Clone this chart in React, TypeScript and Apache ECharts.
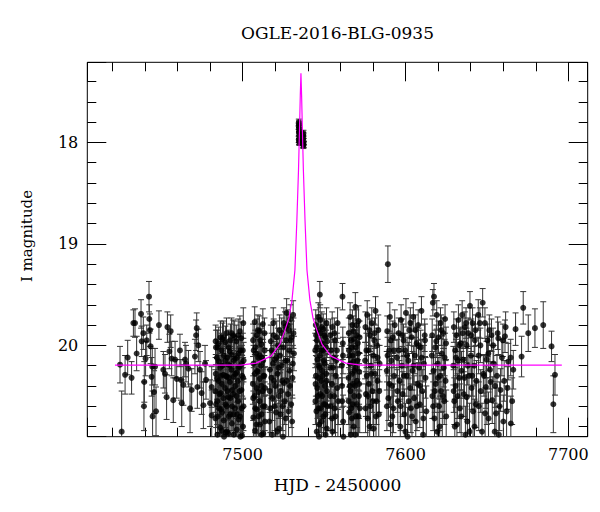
import React, { useEffect, useRef } from 'react';
import * as echarts from 'echarts';

const TITLE = 'OGLE-2016-BLG-0935';
const X_NAME = 'HJD - 2450000';
const Y_NAME = 'I magnitude';
const X_RANGE = [7404.6, 7711.9];
const Y_RANGE = [17.21, 20.9];

// [HJD-2450000, I mag, error]
const SEG_EARLY: number[][] = [
  [7424.7,20.19,.18],[7425.7,20.85,.4],[7427.8,20.29,.19],[7429.4,20.12,.17],[7431.8,20.32,.16],[7432.9,19.78,.13],
  [7433.9,19.78,.14],[7434.9,20.08,.17],[7437.6,19.69,.14],[7438.0,19.96,.15],[7439.0,19.88,.16],[7439.4,20.6,.24],
  [7439.6,20.36,.2],[7440.4,20.13,.17],[7441.1,19.95,.15],[7442.5,19.52,.15],[7442.7,19.74,.14],[7443.1,19.85,.16],
  [7443.5,20.01,.17],[7444.1,20.31,.19],[7444.5,20.21,.18],[7444.7,20.7,.25],[7445.6,20.46,.21],[7446.2,20.21,.18],
  [7446.8,20.65,.24],[7448.6,19.8,.14],[7451.3,20.24,.18],[7452.3,20.28,.19],[7453.3,20.51,.22],[7453.8,19.82,.15],
  [7455.0,20.06,.17],[7455.8,19.86,.16],[7456.4,20.13,.17],[7457.4,20.54,.22],[7458.5,20.14,.18],[7459.5,20.33,.19],
  [7461.5,20.05,.16],[7462.1,20.34,.2],[7462.6,20.57,.23],[7463.6,20.39,.2],[7464.6,20.14,.17],[7465.2,20.18,.18],
  [7466.7,20.23,.18],[7467.7,20.62,.24],[7468.7,20.44,.21],[7470.7,20.11,.17],[7471.4,19.9,.15],[7471.8,19.83,.15],
  [7472.2,20.41,.21],[7472.8,20.0,.16],[7473.8,20.24,.18],[7474.8,20.47,.21],[7475.9,20.59,.23],[7476.9,20.18,.18],
  [7477.5,20.34,.19],[7480.0,20.57,.23],[7481.0,20.41,.2],[7481.0,20.69,.25],
];

const SEG_PRE1: number[][] = [
  [7483.2,20.45,.21],[7483.3,20.72,.26],[7483.5,20.28,.19],[7483.6,20.02,.17],[7484.2,20.12,.18],[7484.4,20.55,.23],
  [7484.5,20.88,.28],[7485.2,20.35,.2],[7485.3,19.98,.16],[7485.5,20.62,.24],[7485.6,20.93,.3],[7486.2,20.22,.19],
  [7486.3,20.81,.27],[7486.5,20.47,.22],[7487.1,20.05,.17],[7487.3,20.38,.2],[7487.4,20.66,.25],[7487.6,19.94,.16],
  [7488.1,20.29,.19],[7488.2,19.92,.16],[7488.4,20.74,.26],[7489.2,20.42,.21],[7489.3,20.15,.18],[7489.5,20.58,.23],
  [7489.6,20.86,.28],[7490.1,19.88,.15],[7490.3,20.31,.2],[7490.4,20.85,.28],[7491.1,20.19,.18],[7491.3,20.51,.22],
  [7491.4,20.02,.17],[7491.6,20.7,.26],[7492.2,20.36,.2],[7492.3,20.68,.25],[7492.5,19.95,.16],[7493.1,20.24,.19],
  [7493.3,20.09,.17],[7493.4,20.77,.27],[7493.6,20.44,.21],[7494.1,20.48,.22],[7494.2,19.9,.15],[7494.4,20.31,.2],
  [7495.2,20.13,.18],[7495.3,20.62,.24],[7495.5,20.4,.21],[7495.6,20.95,.3],[7496.1,19.96,.16],[7496.3,20.27,.19],
  [7496.4,20.83,.27],[7497.1,20.35,.2],[7497.2,20.55,.23],[7497.4,20.08,.17],[7497.6,20.73,.26],[7498.1,20.21,.19],
  [7498.3,19.86,.15],[7498.4,20.7,.26],[7499.2,19.93,.16],[7499.3,20.44,.21],[7499.5,20.18,.18],[7499.6,20.89,.28],
  [7500.1,20.05,.17],[7500.4,19.78,.15],[7500.5,20.6,.24],[7500.3,20.32,.2],
  [7483.4,19.96,.16],[7483.7,20.58,.23],[7484.3,20.33,.2],[7484.6,20.02,.17],[7484.7,20.7,.26],[7485.4,20.16,.18],
  [7485.7,20.48,.22],[7486.4,19.92,.16],[7486.6,20.63,.24],[7486.7,20.3,.2],[7487.2,20.84,.28],[7487.5,20.2,.19],
  [7488.3,20.52,.22],[7488.5,20.1,.18],[7488.6,20.9,.3],[7489.4,19.97,.16],[7489.7,20.3,.2],[7490.2,20.6,.24],
  [7490.5,20.12,.18],[7490.6,20.45,.21],[7491.2,20.87,.28],[7491.5,20.32,.2],[7492.1,20.06,.17],[7492.4,20.52,.22],
  [7492.6,20.2,.19],[7493.2,19.88,.15],[7493.5,20.6,.24],[7494.3,20.68,.25],[7494.5,20.15,.18],[7494.6,20.88,.28],
  [7495.1,19.92,.16],[7495.4,20.28,.19],[7496.2,20.5,.22],[7496.5,20.12,.18],[7496.6,20.68,.25],[7497.3,19.9,.16],
  [7497.5,20.22,.19],[7498.2,20.45,.21],[7498.5,20.05,.17],[7498.6,20.9,.3],[7499.4,20.62,.24],[7499.7,20.3,.2],
  [7500.2,20.8,.27],[7500.6,20.15,.18],
];

const SEG_PRE2: number[][] = [
  [7506.3,20.38,.2],[7506.4,19.95,.16],[7506.6,20.71,.26],[7506.7,20.18,.18],[7507.3,20.5,.22],[7507.4,19.77,.15],
  [7507.6,20.84,.28],[7508.3,20.08,.17],[7508.5,20.42,.21],[7508.6,20.63,.24],[7508.7,19.9,.16],[7509.3,20.26,.19],
  [7509.5,20.93,.3],[7509.6,20.12,.18],[7510.3,19.86,.15],[7510.4,20.55,.23],[7510.6,20.33,.2],[7510.7,20.78,.27],
  [7511.3,20.2,.18],[7511.4,19.99,.16],[7511.6,20.68,.25],[7512.3,20.45,.21],[7512.4,19.79,.15],[7512.6,20.15,.18],
  [7512.7,20.87,.28],[7513.3,20.3,.2],[7513.5,20.05,.17],[7513.6,20.6,.24],
  [7506.5,20.52,.22],[7506.8,20.05,.17],[7507.5,20.28,.19],[7507.7,20.62,.24],[7507.8,20.02,.17],[7508.4,20.78,.27],
  [7508.8,20.25,.19],[7509.4,19.85,.15],[7509.7,20.46,.21],[7509.8,20.7,.26],[7510.5,20.1,.18],[7510.8,19.95,.16],
  [7511.5,20.4,.21],[7511.7,20.88,.28],[7511.8,20.12,.18],[7512.5,20.6,.24],[7512.8,20.3,.2],[7513.4,19.88,.15],
  [7513.7,20.75,.26],[7513.8,20.42,.21],
];

const SEG_RISE: number[][] = [
  [7516.4,20.75,.26],[7516.8,20.24,.19],[7517.3,19.96,.16],[7517.8,20.05,.17],[7518.3,20.52,.22],[7518.8,19.78,.15],
  [7519.3,20.35,.2],[7519.8,20.14,.18],[7520.5,20.66,.25],[7520.9,19.92,.16],[7521.4,20.28,.19],[7522.0,20.22,.18],
  [7522.4,20.82,.28],[7523.0,20.1,.17],[7523.5,20.45,.21],[7524.0,19.88,.15],[7524.5,20.6,.24],[7525.0,20.02,.17],
  [7525.5,20.37,.2],[7526.0,19.82,.15],[7526.5,20.72,.26],[7527.0,19.68,.14],[7527.4,20.15,.18],[7527.9,20.48,.22],
  [7528.4,19.85,.15],[7528.9,20.25,.19],[7529.3,19.74,.14],[7529.8,20.58,.23],[7530.1,19.92,.16],[7530.6,20.32,.2],
  [7531.0,19.7,.14],[7531.5,20.08,.17],
  [7516.6,20.45,.21],[7517.0,20.62,.24],[7517.6,20.32,.2],[7518.1,20.88,.28],[7518.6,20.18,.18],[7519.1,19.9,.16],
  [7519.6,20.6,.24],[7520.1,20.4,.21],[7520.7,20.12,.18],[7521.2,20.85,.28],[7521.7,20.0,.17],[7522.2,20.5,.22],
  [7522.7,19.85,.15],[7523.2,20.68,.25],[7523.8,20.2,.19],[7524.3,20.35,.2],[7524.8,20.9,.3],[7525.3,19.78,.15],
  [7525.8,20.55,.23],[7526.3,20.15,.18],[7526.8,19.95,.16],[7527.2,20.35,.2],[7527.7,19.8,.15],[7528.2,20.65,.25],
  [7528.6,20.05,.17],[7529.1,20.4,.21],[7529.6,19.95,.16],[7530.4,20.75,.26],[7530.8,20.18,.18],[7531.2,19.88,.15],
];

const SEG_PEAK: number[][] = [
  [7534.40,17.84,.03],[7534.45,17.97,.03],[7534.50,17.80,.03],[7534.55,17.90,.03],[7534.60,17.86,.03],
  [7534.65,17.99,.03],[7534.70,17.82,.03],[7534.75,17.93,.03],[7534.80,17.88,.03],[7534.85,18.00,.03],
  [7537.15,17.93,.03],[7537.20,18.02,.03],[7537.25,17.96,.03],[7537.30,18.03,.03],[7537.35,17.91,.03],
  [7537.40,17.99,.03],[7537.45,18.02,.03],
];

const SEG_POST1: number[][] = [
  [7544.6,20.05,.17],[7544.7,20.55,.23],[7544.9,19.8,.15],[7545.0,20.3,.2],[7545.5,20.85,.28],[7545.6,19.95,.16],
  [7545.8,20.42,.21],[7545.9,20.14,.18],[7546.5,19.72,.14],[7546.6,20.62,.24],[7546.8,20.2,.19],[7546.9,20.9,.29],
  [7547.4,19.5,.13],[7547.5,20.1,.18],[7547.7,20.48,.22],[7547.8,19.88,.15],[7548.4,20.35,.2],[7548.5,20.75,.27],
  [7548.7,19.98,.16],[7548.8,20.25,.19],[7549.4,20.05,.17],[7549.5,19.84,.15],[7549.7,20.58,.23],[7549.8,20.95,.3],
  [7550.4,20.18,.18],[7550.5,20.4,.21],[7550.7,19.92,.16],[7550.8,20.68,.25],[7551.4,20.28,.19],[7551.5,19.78,.15],
  [7551.7,20.82,.28],[7551.8,20.45,.21],
  [7544.8,20.38,.2],[7545.1,19.9,.16],[7545.3,20.65,.25],[7545.4,20.02,.17],[7546.0,20.5,.22],[7546.2,19.85,.15],
  [7546.4,20.32,.2],[7547.0,20.78,.27],[7547.2,20.22,.19],[7547.6,19.75,.15],[7547.9,20.62,.24],[7548.2,20.05,.17],
  [7548.6,19.82,.15],[7548.9,20.5,.22],[7549.2,20.3,.2],[7549.6,20.7,.26],[7549.9,20.15,.18],[7550.2,19.9,.16],
  [7550.6,20.58,.23],[7550.9,20.88,.28],[7551.2,20.02,.17],[7551.6,20.35,.2],[7551.9,19.96,.16],[7552.1,20.6,.24],
  [7553.7,20.22,.19],[7553.9,19.9,.16],[7554.1,20.6,.24],[7554.8,20.38,.2],[7555.0,19.82,.15],[7555.2,20.85,.28],
  [7555.9,20.12,.18],[7556.1,20.5,.22],[7556.8,19.95,.16],[7557.0,20.7,.26],[7557.2,20.3,.2],[7557.9,20.05,.17],
  [7558.1,20.42,.21],[7558.5,20.92,.29],
  [7553.8,20.5,.22],[7554.3,20.05,.17],[7554.9,20.72,.26],[7555.5,20.22,.19],[7556.3,19.88,.15],[7556.5,20.62,.24],
  [7557.5,20.15,.18],[7558.3,19.78,.15],[7558.7,20.55,.23],
  [7560.9,20.2,.19],[7561.1,20.55,.23],[7561.3,19.52,.13],[7561.5,19.98,.16],[7561.7,20.75,.26],
  [7561.0,20.4,.21],[7561.6,20.1,.18],[7561.9,20.9,.3],
];

const SEG_POST2: number[][] = [
  [7565.0,20.32,.2],[7565.2,19.88,.15],[7565.4,20.66,.25],[7565.6,20.1,.18],[7566.0,19.72,.14],[7566.2,20.45,.21],
  [7566.4,20.88,.28],[7567.0,20.02,.17],[7567.2,20.28,.19],[7567.4,19.8,.15],[7567.6,20.58,.23],[7568.0,20.16,.18],
  [7568.2,20.8,.27],[7568.4,19.94,.16],[7569.0,20.4,.21],[7569.2,19.62,.14],[7569.4,20.22,.19],[7569.6,20.7,.26],
  [7570.0,19.9,.16],[7570.2,20.35,.2],[7570.4,20.97,.3],[7571.0,20.08,.17],[7571.2,19.76,.15],[7571.4,20.5,.22],
  [7571.6,20.26,.19],[7571.9,20.62,.24],
  [7565.1,20.55,.23],[7565.3,20.05,.17],[7565.8,20.4,.21],[7566.1,20.18,.18],[7566.5,19.95,.16],[7566.7,20.62,.24],
  [7567.1,20.72,.26],[7567.5,20.1,.18],[7567.8,20.38,.2],[7568.1,19.86,.15],[7568.5,20.5,.22],[7568.7,20.25,.19],
  [7569.1,20.88,.28],[7569.5,20.02,.17],[7569.8,19.8,.15],[7570.1,20.58,.23],[7570.5,20.15,.18],[7570.7,19.98,.16],
  [7571.1,20.7,.26],[7571.5,20.38,.2],[7571.8,19.92,.16],
  [7575.2,20.15,.18],[7575.4,19.82,.15],[7575.7,20.48,.22],[7576.2,20.3,.2],[7576.5,19.7,.14],[7576.8,20.72,.26],
  [7577.3,20.05,.17],[7577.5,20.38,.2],[7578.2,19.9,.16],[7578.5,20.6,.24],[7578.8,20.2,.19],[7579.3,19.78,.15],
  [7579.6,20.45,.21],[7580.2,20.1,.18],[7580.5,20.82,.28],[7580.8,19.95,.16],[7581.3,20.28,.19],[7581.6,19.66,.14],
  [7582.2,20.55,.23],[7582.5,20.0,.17],[7582.8,20.35,.2],[7583.3,19.85,.15],[7583.6,20.68,.25],[7584.1,20.18,.18],
  [7575.5,20.62,.24],[7576.0,20.05,.17],[7577.0,20.5,.22],[7577.8,19.85,.15],[7578.0,20.8,.27],[7579.0,20.28,.19],
  [7580.0,20.55,.23],[7581.0,19.88,.15],[7581.9,20.7,.26],[7582.9,20.12,.18],[7583.9,20.45,.21],
  [7588.5,20.25,.19],[7588.8,19.86,.15],[7589.2,19.2,.18],[7589.5,20.52,.22],[7590.0,20.05,.17],[7590.4,19.72,.14],
  [7590.8,20.78,.27],[7591.3,20.15,.18],[7591.7,20.4,.21],[7592.2,19.92,.16],[7592.6,20.62,.24],[7593.0,20.3,.2],
  [7593.4,19.8,.15],
  [7588.6,20.6,.24],[7589.0,20.1,.18],[7590.2,20.38,.2],[7591.0,19.95,.16],[7591.9,20.7,.26],[7592.9,20.05,.17],
];

const SEG_POST3: number[][] = [
  [7594.8,20.12,.18],[7595.3,20.55,.23],[7595.8,19.88,.15],[7596.3,20.35,.2],[7596.8,20.8,.27],[7597.3,19.75,.15],
  [7597.8,20.2,.19],[7598.3,20.48,.22],[7598.8,19.95,.16],[7599.3,20.68,.25],[7599.8,20.05,.17],[7600.3,19.68,.14],
  [7600.8,20.3,.2],[7601.3,20.9,.29],[7601.8,20.15,.18],[7602.3,19.85,.15],[7602.8,20.42,.21],[7603.3,20.62,.24],
  [7603.8,19.92,.16],[7604.3,20.25,.19],[7604.8,19.72,.14],[7605.3,20.52,.22],[7605.8,20.1,.18],[7606.3,20.75,.26],
  [7606.8,19.98,.16],[7607.3,20.38,.2],[7607.8,19.8,.15],[7608.3,20.22,.19],[7608.8,20.58,.23],[7609.3,20.02,.17],
  [7609.8,19.66,.14],[7610.3,20.45,.21],[7610.8,20.88,.28],[7611.3,20.18,.18],[7611.8,19.9,.16],[7612.3,20.32,.2],
  [7612.8,20.65,.25],
  [7595.0,20.45,.21],[7596.0,20.05,.17],[7597.0,20.6,.24],[7598.0,19.9,.16],[7599.0,20.3,.2],[7600.0,20.85,.28],
  [7601.0,20.1,.18],[7602.0,20.55,.23],[7603.0,19.78,.15],[7604.0,20.7,.26],[7605.0,20.2,.19],[7606.0,19.85,.15],
  [7607.0,20.6,.24],[7608.0,20.0,.17],[7609.0,20.4,.21],[7610.0,20.12,.18],[7611.0,20.72,.26],[7612.0,19.95,.16],
  [7616.2,20.1,.18],[7616.5,20.5,.22],[7616.8,19.58,.13],[7617.2,20.25,.19],[7617.5,19.52,.13],[7617.8,20.72,.26],
  [7618.3,20.02,.17],[7618.6,20.38,.2],[7619.2,19.7,.14],[7619.5,20.85,.28],[7619.8,20.18,.18],[7620.3,19.92,.16],
  [7620.6,20.6,.24],[7621.2,20.3,.2],[7621.5,19.78,.15],[7621.8,20.45,.21],[7622.3,20.08,.17],[7622.6,20.95,.3],
  [7623.2,19.88,.15],[7623.5,20.22,.19],[7623.8,20.55,.23],[7624.3,19.74,.14],[7624.6,20.35,.2],[7625.0,20.7,.26],
  [7616.4,19.9,.16],[7617.0,20.6,.24],[7618.0,20.45,.21],[7618.9,19.96,.16],[7620.0,20.32,.2],[7621.0,20.8,.27],
  [7622.0,19.85,.15],[7623.0,20.5,.22],[7624.0,20.12,.18],[7624.9,19.98,.16],
];

const SEG_POST4: number[][] = [
  [7629.4,20.2,.19],[7629.7,19.82,.15],[7630.0,20.55,.23],[7630.5,20.05,.17],[7630.8,20.4,.21],[7631.3,19.9,.16],
  [7631.6,20.78,.27],[7632.2,20.15,.18],[7632.5,19.75,.15],[7633.0,20.32,.2],[7633.4,20.62,.24],[7633.9,19.98,.16],
  [7634.4,20.25,.19],[7634.8,19.7,.14],[7635.5,20.14,.18],[7635.8,20.48,.22],[7636.5,19.82,.15],[7636.8,20.88,.28],
  [7637.5,20.0,.17],[7637.6,20.51,.22],[7638.0,20.75,.26],[7638.5,19.88,.15],[7639.0,20.3,.2],[7639.6,19.61,.14],
  [7640.2,20.1,.18],[7640.6,20.42,.21],[7641.2,19.78,.15],[7641.5,20.65,.25],[7642.2,20.2,.19],[7642.6,19.95,.16],
  [7643.2,20.58,.23],[7643.6,20.35,.2],
  [7629.6,20.45,.21],[7630.3,20.8,.27],[7631.0,20.12,.18],[7632.0,20.5,.22],[7633.2,20.0,.17],[7634.2,20.7,.26],
  [7635.2,19.88,.15],[7636.2,20.32,.2],[7637.2,19.78,.15],[7638.2,20.2,.19],[7639.3,20.85,.28],[7640.4,19.9,.16],
  [7641.0,20.3,.2],[7642.4,20.8,.27],[7643.0,19.85,.15],
  [7644.7,19.7,.15],[7644.9,20.1,.18],[7645.7,19.78,.15],[7646.2,20.45,.21],[7647.4,19.58,.14],[7647.8,20.28,.19],
  [7648.8,19.78,.15],[7648.9,20.67,.25],[7649.4,20.41,.21],[7649.8,20.14,.18],[7650.4,19.95,.16],[7650.9,20.08,.17],
  [7651.0,20.72,.26],[7651.9,20.24,.19],[7652.3,20.36,.2],[7652.8,19.9,.16],[7653.3,20.54,.23],[7654.2,20.18,.18],
  [7654.8,20.85,.28],[7655.6,20.67,.25],[7656.2,20.3,.2],[7656.6,19.88,.16],[7657.0,19.93,.16],[7657.3,20.88,.28],
  [7658.4,20.44,.21],[7659.2,20.12,.18],[7660.1,20.75,.26],[7660.6,20.35,.2],[7661.1,19.91,.16],[7661.5,19.82,.15],
  [7662.1,20.65,.25],[7663.1,20.16,.18],[7664.6,20.12,.18],[7664.7,20.77,.27],[7666.2,20.24,.19],[7667.6,19.84,.16],
  [7645.0,20.6,.24],[7646.0,20.0,.17],[7647.0,20.85,.28],[7648.2,20.3,.2],[7650.0,20.55,.23],[7651.5,19.85,.15],
  [7653.8,20.0,.17],[7655.0,20.4,.21],[7657.8,20.6,.24],[7659.8,19.95,.16],[7662.6,20.42,.21],[7665.5,20.55,.23],
];

const SEG_LATE: number[][] = [
  [7671.3,20.11,.2],[7672.3,19.63,.16],[7675.4,19.88,.18],[7679.5,19.83,.19],[7684.6,19.8,.23],
  [7689.7,20.01,.15],[7690.8,20.58,.28],[7691.8,20.29,.2],
];

// point-lens model curve
const MODEL_T = [7421.6, 7499.0, 7508.2, 7517.4, 7522.9, 7526.0, 7528.4, 7530.3, 7532.1, 7533.3, 7534.3, 7534.9,
  7535.4, 7535.8, 7536.2, 7536.7, 7537.3, 7538.3, 7539.5, 7541.3, 7543.2, 7545.6, 7548.7, 7554.2, 7563.4, 7572.6, 7696.0];
const MODEL_M = [20.195, 20.195, 20.175, 20.106, 19.988, 19.85, 19.731, 19.554, 19.258, 18.766, 18.273, 17.879,
  17.534, 17.317, 17.534, 17.879, 18.273, 18.766, 19.258, 19.554, 19.731, 19.85, 19.988, 20.106, 20.175, 20.195, 20.195];

const FONT = 'DejaVu Serif';

export default function App() {
  const ref = useRef<HTMLDivElement>(null);
  useEffect(() => {
    if (!ref.current) return;
    const chart = echarts.init(ref.current, null, { renderer: 'svg' });
    const obs = [
      ...SEG_EARLY, ...SEG_PRE1, ...SEG_PRE2, ...SEG_RISE, ...SEG_PEAK,
      ...SEG_POST1, ...SEG_POST2, ...SEG_POST3, ...SEG_POST4, ...SEG_LATE,
    ];
    const tickLine = { color: '#000', width: 1 };
    const xBase = {
      type: 'value', min: X_RANGE[0], max: X_RANGE[1],
      axisLine: { show: false }, splitLine: { show: false },
    };
    const yBase = {
      type: 'value', min: Y_RANGE[0], max: Y_RANGE[1], inverse: true,
      axisLine: { show: false }, splitLine: { show: false },
    };
    const isMult = (v: number, m: number) => Math.abs(v / m - Math.round(v / m)) < 1e-6;
    const labelStyle = { color: '#000', fontFamily: FONT, fontSize: 16 };
    const option: any = {
      animation: false,
      backgroundColor: '#fff',
      title: {
        text: TITLE, left: 337.5, top: 24, textAlign: 'center', padding: 0,
        textStyle: { fontFamily: FONT, fontSize: 17, fontWeight: 'normal', color: '#000' },
      },
      grid: {
        left: 87.3, right: 12.3, top: 62.3, bottom: 75.3,
        show: true, borderColor: '#000', borderWidth: 1, backgroundColor: 'transparent',
        containLabel: false, outerBoundsMode: 'none',
      },
      xAxis: [
        {
          ...xBase, position: 'bottom', splitNumber: 3,
          axisTick: { inside: true, length: 19, lineStyle: tickLine },
          axisLabel: { ...labelStyle, margin: 10, formatter: (v: number) => (isMult(v, 100) ? String(Math.round(v)) : '') },
          name: X_NAME, nameLocation: 'middle', nameGap: 40,
          nameTextStyle: { fontFamily: FONT, fontSize: 17, color: '#000' },
        },
        { ...xBase, position: 'bottom', splitNumber: 15, axisTick: { inside: true, length: 9, lineStyle: tickLine }, axisLabel: { show: false } },
        { ...xBase, position: 'top', splitNumber: 3, axisTick: { inside: true, length: 19, lineStyle: tickLine }, axisLabel: { show: false } },
        { ...xBase, position: 'top', splitNumber: 15, axisTick: { inside: true, length: 9, lineStyle: tickLine }, axisLabel: { show: false } },
      ],
      yAxis: [
        {
          ...yBase, position: 'left', splitNumber: 4,
          axisTick: { inside: true, length: 19, lineStyle: tickLine },
          axisLabel: { ...labelStyle, margin: 9, formatter: (v: number) => (isMult(v, 1) ? String(Math.round(v)) : '') },
          name: Y_NAME, nameLocation: 'middle', nameGap: 53,
          nameTextStyle: { fontFamily: FONT, fontSize: 15, color: '#000', padding: [0, 0, 0, 27] },
        },
        { ...yBase, position: 'left', splitNumber: 18, axisTick: { inside: true, length: 9, lineStyle: tickLine }, axisLabel: { show: false } },
        { ...yBase, position: 'right', splitNumber: 4, axisTick: { inside: true, length: 19, lineStyle: tickLine }, axisLabel: { show: false } },
        { ...yBase, position: 'right', splitNumber: 18, axisTick: { inside: true, length: 9, lineStyle: tickLine }, axisLabel: { show: false } },
      ],
      series: [
        {
          type: 'custom', xAxisIndex: 0, yAxisIndex: 0, data: obs, encode: { x: 0, y: 1 },
          clip: true, silent: true, z: 2,
          renderItem: (params: any, api: any) => {
            const t = api.value(0), m = api.value(1), e = api.value(2);
            const a = api.coord([t, m - e]);
            const b = api.coord([t, m + e]);
            const w = 3;
            const st = { stroke: '#333', lineWidth: 1 };
            return {
              type: 'group',
              children: [
                { type: 'line', shape: { x1: a[0], y1: a[1], x2: b[0], y2: b[1] }, style: st },
                { type: 'line', shape: { x1: a[0] - w, y1: a[1], x2: a[0] + w, y2: a[1] }, style: st },
                { type: 'line', shape: { x1: b[0] - w, y1: b[1], x2: b[0] + w, y2: b[1] }, style: st },
              ],
            };
          },
        },
        {
          type: 'scatter', xAxisIndex: 0, yAxisIndex: 0,
          data: obs.map((d) => [d[0], d[1]]),
          symbol: 'circle', symbolSize: 6, itemStyle: { color: '#000' }, clip: true, silent: true, z: 3,
        },
        {
          type: 'line', xAxisIndex: 0, yAxisIndex: 0,
          data: MODEL_T.map((t, i) => [t, MODEL_M[i]]),
          showSymbol: false, symbol: 'none', lineStyle: { color: '#ff00ff', width: 1.2 }, clip: true, silent: true, z: 4,
        },
      ],
    };
    chart.setOption(option);
    return () => chart.dispose();
  }, []);
  return <div ref={ref} style={{ position: 'fixed', left: 0, top: 0, width: 600, height: 512 }} />;
}
